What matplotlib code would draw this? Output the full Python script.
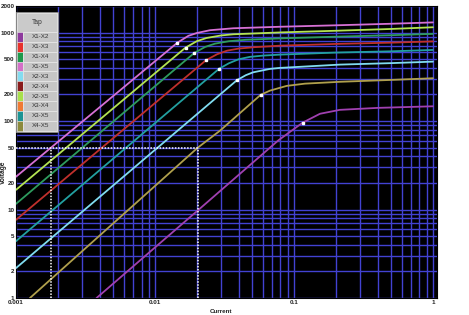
import matplotlib
matplotlib.use("Agg")
import matplotlib.pyplot as plt
from matplotlib.patches import Rectangle
from matplotlib.ticker import LogLocator, FixedLocator, FixedFormatter, NullFormatter

gcol = "#4242d2"
glw = 1.0
plt.rcParams["font.family"] = ["Liberation Sans", "DejaVu Sans"]
plt.rcParams["grid.color"] = gcol
plt.rcParams["grid.linewidth"] = glw
plt.rcParams["grid.alpha"] = 1.0

# ---------------- data ----------------
tap_labels = ["X1-X2", "X1-X3", "X1-X4", "X1-X5", "X2-X3",
              "X2-X4", "X2-X5", "X3-X4", "X3-X5", "X4-X5"]
tap_colors = ["#8e3a9e", "#e8322c", "#1e9a4c", "#d470c8", "#84dcf0",
              "#8a1c1c", "#a8e04c", "#f07a34", "#1c9494", "#8c8a3c"]

# excitation curves (current A, voltage V)
x1x5_I = [0.001, 0.0145, 0.0174, 0.0200, 0.0249, 0.0366, 0.079, 0.2, 0.5, 1.0]
x1x5_V = [23.5, 770, 920, 990, 1065, 1120, 1165, 1210, 1260, 1305]

x2x5_I = [0.001, 0.0166, 0.0200, 0.0235, 0.030, 0.0367, 0.079, 0.2, 0.5, 1.0]
x2x5_V = [16.7, 677, 800, 870, 930, 958, 1005, 1050, 1100, 1150]

x1x4_I = [0.001, 0.0192, 0.023, 0.027, 0.034, 0.045, 0.079, 0.2, 0.5, 1.0]
x1x4_V = [11.6, 590, 690, 750, 800, 830, 860, 900, 935, 968]

x1x3_I = [0.001, 0.0233, 0.028, 0.033, 0.040, 0.052, 0.079, 0.2, 0.5, 1.0]
x1x3_V = [7.65, 488, 570, 625, 660, 685, 712, 745, 770, 796]

x3x5_I = [0.001, 0.0289, 0.034, 0.040, 0.0482, 0.060, 0.079, 0.2, 0.5, 1.0]
x3x5_V = [4.39, 390, 450, 500, 532, 550, 564, 595, 615, 637]

x2x3_I = [0.001, 0.0389, 0.045, 0.0509, 0.0672, 0.079, 0.214, 0.5, 1.0]
x2x3_V = [2.18, 290, 330, 356, 389, 399, 435, 452, 470]

x4x5_I = [0.00126, 0.0203, 0.0294, 0.0576, 0.0672, 0.0887, 0.12, 0.214, 0.5, 1.0]
x4x5_V = [1.0, 50, 78, 198, 221, 250, 265, 278, 292, 305]

x1x2_I = [0.0038, 0.0203, 0.0771, 0.1155, 0.154, 0.214, 0.4, 1.0]
x1x2_V = [1.0, 9.75, 60.4, 96, 121, 134, 141, 147]

curve_I = [x1x5_I, x2x5_I, x1x4_I, x1x3_I, x3x5_I, x2x3_I, x4x5_I, x1x2_I]
curve_V = [x1x5_V, x2x5_V, x1x4_V, x1x3_V, x3x5_V, x2x3_V, x4x5_V, x1x2_V]
curve_colors = ["#d670d4", "#b4e452", "#2e9c5e", "#c0302c", "#22a0a0",
                "#80dcf0", "#b0a04c", "#a040b0"]

# knee points
knee_I = [0.0145, 0.0166, 0.0192, 0.0233, 0.0289, 0.0389, 0.0576, 0.1155]
knee_V = [770, 677, 590, 488, 390, 290, 198, 96]

# dotted reference lines
ref_V = 50
ref_I_low = 0.0018
ref_I_high = 0.0203

y_ticks = [1, 2, 5, 10, 20, 50, 100, 200, 500, 1000, 2000]
y_ticklabels = ["1", "2", "5", "10", "20", "50", "100", "200", "500", "1000", "2000"]
x_ticks = [0.001, 0.01, 0.1, 1]
x_ticklabels = ["0.001", "0.01", "0.1", "1"]

# ---------------- figure ----------------
W, H = 469, 315
fig = plt.figure(figsize=(W / 100, H / 100), dpi=100)
fig.patch.set_facecolor("white")

def fx(px):
    return px / W

def fy(py):
    return 1 - py / H

ax_l, ax_r, ax_t, ax_b = 16, 437, 6, 298
ax = fig.add_axes([fx(ax_l), fy(ax_b), (ax_r - ax_l) / W, (ax_b - ax_t) / H])
ax.set_facecolor("black")
ax.set_xscale("log")
ax.set_yscale("log")
ax.set_xlim(0.001, 1.07)
ax.set_ylim(1, 2000)

ax.xaxis.set_major_locator(FixedLocator(x_ticks))
ax.xaxis.set_major_formatter(FixedFormatter(x_ticklabels))
ax.yaxis.set_major_locator(FixedLocator(y_ticks))
ax.yaxis.set_major_formatter(FixedFormatter(y_ticklabels))
ax.xaxis.set_minor_locator(LogLocator(base=10, subs=range(2, 10), numticks=20))
ax.yaxis.set_minor_locator(LogLocator(base=10, subs=range(2, 10), numticks=20))
ax.xaxis.set_minor_formatter(NullFormatter())
ax.yaxis.set_minor_formatter(NullFormatter())

ax.tick_params(which="both", length=0, labelsize=4.5, labelcolor="#222222", pad=1.2,
               grid_color=gcol, grid_linewidth=glw, grid_alpha=1.0)
ax.grid(True, which="both", color=gcol, linewidth=glw)
ax.set_axisbelow(True)
for lab in ax.get_xticklabels() + ax.get_yticklabels():
    lab.set_fontweight("bold")
for sp in ax.spines.values():
    sp.set_color("black")

for I, V, c in zip(curve_I, curve_V, curve_colors):
    ax.plot(I, V, color=c, linewidth=1.3, solid_capstyle="round", zorder=3)

ax.plot(knee_I, knee_V, linestyle="none", marker="s", markersize=1.7,
        markerfacecolor="white", markeredgecolor="white", zorder=4)

ax.plot([0.001, ref_I_high], [ref_V, ref_V], color="white", linestyle=(0, (1, 1)),
        linewidth=1.1, zorder=5)
ax.plot([ref_I_low, ref_I_low], [1, ref_V], color="white", linestyle=(0, (1, 1)),
        linewidth=1.1, zorder=5)
ax.plot([ref_I_high, ref_I_high], [1, ref_V], color="white", linestyle=(0, (1, 1)),
        linewidth=1.1, zorder=5)

ax.set_xlabel("Current", fontsize=4.5, fontweight="bold", color="#222222")
ax.set_ylabel("Voltage", fontsize=4.8, fontweight="bold", color="#222222")
ax.xaxis.set_label_coords(0.487, -0.038)
ax.yaxis.set_label_coords(-0.0225, 0.43)

# ---------------- legend (drawn as a table) ----------------
lg_l, lg_r = 17, 57
hd_t, hd_b = 13, 32
row_h = 9.85
sw_w = 6

def add_rect(x0, y0, x1, y1, fc, ec, lw=0.6):
    fig.add_artist(Rectangle((fx(x0), fy(y1)), (x1 - x0) / W, (y1 - y0) / H,
                             transform=fig.transFigure, facecolor=fc,
                             edgecolor=ec, linewidth=lw, zorder=10))

add_rect(lg_l - 1, hd_t - 1, lg_r + 1, hd_b + row_h * len(tap_labels) + 1,
         "#a8a8a8", "#909090")
add_rect(lg_l, hd_t, lg_r, hd_b, "#cacaca", "#e6e6e6")
fig.text(fx((lg_l + lg_r) / 2), fy((hd_t + hd_b) / 2), "Tap", fontsize=4.8,
         ha="center", va="center", color="#333333", zorder=11)
for i, (lab, col) in enumerate(zip(tap_labels, tap_colors)):
    t = hd_b + i * row_h
    b = t + row_h
    add_rect(lg_l, t, lg_l + sw_w, b, col, "#e6e6e6", 0.4)
    add_rect(lg_l + sw_w, t, lg_r, b, "#c6c6c6", "#e6e6e6", 0.6)
    fig.text(fx((lg_l + sw_w + lg_r) / 2 + 0.5), fy((t + b) / 2), lab, fontsize=4.5,
             ha="center", va="center", color="#333333", zorder=11)

fig.savefig("out.png", dpi=100, facecolor="white")
